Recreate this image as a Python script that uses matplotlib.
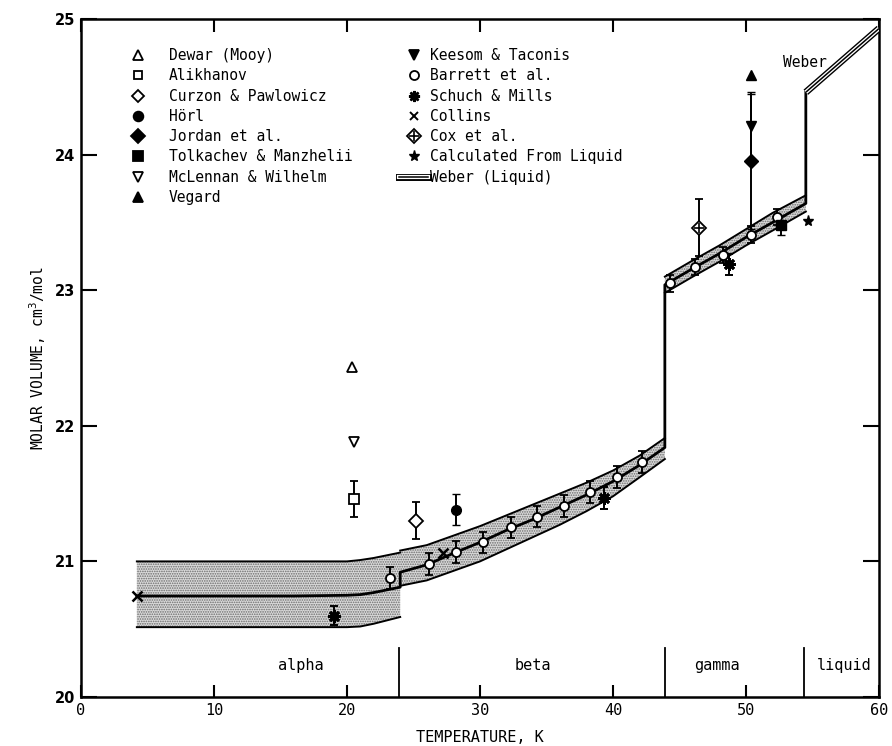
import matplotlib
matplotlib.use('Agg')
import matplotlib.pyplot as plt
from matplotlib.lines import Line2D
from matplotlib.legend_handler import HandlerTuple

# ---------------- data ----------------
# recommended curve with uncertainty band, per phase
alpha_T = [4.2, 8, 12, 16, 20, 21, 22, 23, 24.0]
alpha_mid = [20.745, 20.745, 20.745, 20.745, 20.75, 20.755, 20.77, 20.79, 20.81]
alpha_hi = [21.0, 21.0, 21.0, 21.0, 21.0, 21.01, 21.025, 21.045, 21.065]
alpha_lo = [20.515, 20.515, 20.515, 20.515, 20.515, 20.52, 20.54, 20.565, 20.59]

beta_T = [24.0, 26, 28, 30, 32, 34, 36, 38, 40, 42, 43.9]
beta_mid = [20.92, 20.975, 21.06, 21.14, 21.23, 21.31, 21.40, 21.49, 21.59, 21.71, 21.84]
beta_hi = [21.08, 21.12, 21.19, 21.26, 21.34, 21.42, 21.50, 21.58, 21.67, 21.78, 21.91]
beta_lo = [20.82, 20.86, 20.93, 21.00, 21.09, 21.18, 21.27, 21.37, 21.48, 21.62, 21.755]

gamma_T = [43.9, 46, 48, 50, 52, 54.5]
gamma_mid = [23.04, 23.16, 23.27, 23.39, 23.50, 23.64]
gamma_hi = [23.10, 23.22, 23.33, 23.45, 23.57, 23.70]
gamma_lo = [22.98, 23.10, 23.21, 23.33, 23.44, 23.58]

liquid_T = [54.5, 60.0]
liquid_V = [24.46, 24.93]

# experimental points
dewar_T, dewar_V = [20.4], [22.43]
alikhanov_T, alikhanov_V, alikhanov_err = [20.5], [21.46], [0.13]
curzon_T, curzon_V, curzon_err = [25.2], [21.30], [0.135]
horl_T, horl_V, horl_err = [28.2], [21.38], [0.115]
jordan_T, jordan_V, jordan_err = [50.35], [23.95], [0.50]
tolkachev_T, tolkachev_V, tolkachev_err = [52.6], [23.48], [0.07]
mclennan_T, mclennan_V = [20.5], [21.88]
vegard_T, vegard_V = [50.35], [24.59]
keesom_T, keesom_V, keesom_err = [50.35], [24.21], [0.25]
barrett_T = [23.2, 26.2, 28.2, 30.2, 32.3, 34.3, 36.3, 38.3, 40.3, 42.2,
             44.3, 46.2, 48.3, 50.35, 52.3]
barrett_V = [20.88, 20.98, 21.07, 21.14, 21.25, 21.33, 21.41, 21.51, 21.62, 21.735,
             23.05, 23.17, 23.26, 23.41, 23.54]
barrett_err = [0.08, 0.08, 0.08, 0.08, 0.08, 0.08, 0.08, 0.08, 0.08, 0.08,
               0.06, 0.06, 0.06, 0.06, 0.06]
schuch_T, schuch_V, schuch_err = [19.0, 39.3, 48.7], [20.60, 21.47, 23.19], [0.07, 0.08, 0.08]
collins_T, collins_V = [4.2, 27.2], [20.745, 21.06]
cox_T, cox_V, cox_err = [46.5], [23.46], [0.21]
calc_T, calc_V = [54.7], [23.51]

phase_bounds = [23.9, 43.9, 54.4]
phase_names = ['alpha', 'beta', 'gamma', 'liquid']
phase_label_T = [16.5, 34.0, 47.8, 57.4]

x_ticks = [0, 10, 20, 30, 40, 50, 60]
y_ticks = [20, 21, 22, 23, 24, 25]

# ---------------- plotting ----------------
MONO = 'DejaVu Sans Mono'
plt.rcParams['hatch.linewidth'] = 0.8

fig = plt.figure(figsize=(8.92, 7.46), dpi=100)
ax = fig.add_axes([0.0908, 0.0657, 0.8946, 0.9088])
ax.set_xlim(0, 60)
ax.set_ylim(20, 25)

band_face = '#dadada'
for T, lo, hi in [(alpha_T, alpha_lo, alpha_hi), (beta_T, beta_lo, beta_hi),
                  (gamma_T, gamma_lo, gamma_hi)]:
    ax.fill_between(T, lo, hi, facecolor=band_face, edgecolor='none', zorder=1)
    ax.fill_between(T, lo, hi, facecolor='none', edgecolor='#6a6a6a', hatch='.......',
                    linewidth=0, zorder=1.1)
    ax.plot(T, lo, color='black', lw=1.4, zorder=2)
    ax.plot(T, hi, color='black', lw=1.4, zorder=2)

mid_T = alpha_T + beta_T + gamma_T + [liquid_T[0]]
mid_V = alpha_mid + beta_mid + gamma_mid + [liquid_V[0]]
ax.plot(mid_T, mid_V, color='black', lw=2.0, zorder=3)

# Weber liquid: triple line
ax.plot(liquid_T, liquid_V, color='black', lw=5.0, zorder=3, solid_capstyle='butt')
ax.plot(liquid_T, liquid_V, color='white', lw=3.0, zorder=3.1, solid_capstyle='butt')
ax.plot(liquid_T, liquid_V, color='black', lw=1.1, zorder=3.2, solid_capstyle='butt')
ax.text(52.8, 24.68, 'Weber', fontfamily=MONO, fontsize=10.5, va='center', ha='left')

ekw = dict(ecolor='black', elinewidth=1.4, capsize=3, capthick=1.4, linestyle='none', zorder=5)
open_kw = dict(mfc='white', mec='black', mew=1.3)
fill_kw = dict(mfc='black', mec='black', mew=1.0)

ax.errorbar(barrett_T, barrett_V, yerr=barrett_err, fmt='o', ms=6.5, **open_kw, **ekw)
ax.errorbar(alikhanov_T, alikhanov_V, yerr=alikhanov_err, fmt='s', ms=6.5, **open_kw, **ekw)
ax.errorbar(curzon_T, curzon_V, yerr=curzon_err, fmt='D', ms=7, **open_kw, **ekw)
ax.errorbar(horl_T, horl_V, yerr=horl_err, fmt='o', ms=7, **fill_kw, **ekw)
ax.errorbar(jordan_T, jordan_V, yerr=jordan_err, fmt='D', ms=7, **fill_kw, **ekw)
ax.errorbar(keesom_T, keesom_V, yerr=keesom_err, fmt='v', ms=7.5, **fill_kw, **ekw)
ax.errorbar(tolkachev_T, tolkachev_V, yerr=tolkachev_err, fmt='s', ms=6.5, **fill_kw, **ekw)
ax.errorbar(schuch_T, schuch_V, yerr=schuch_err, fmt='none', **ekw)
ax.plot(schuch_T, schuch_V, linestyle='none', marker=(8, 2, 0), ms=9, mec='black', mew=2.0, zorder=6)
ax.errorbar(cox_T, cox_V, yerr=cox_err, fmt='D', ms=7.5, **open_kw, **ekw)
ax.plot(cox_T, cox_V, linestyle='none', marker='+', ms=7.5, mec='black', mew=1.2, zorder=6)
ax.plot(dewar_T, dewar_V, linestyle='none', marker='^', ms=7.5, **open_kw, zorder=6)
ax.plot(mclennan_T, mclennan_V, linestyle='none', marker='v', ms=7.5, **open_kw, zorder=6)
ax.plot(vegard_T, vegard_V, linestyle='none', marker='^', ms=7.5, **fill_kw, zorder=6)
ax.plot(collins_T, collins_V, linestyle='none', marker='x', ms=7, mec='black', mew=1.8, zorder=6)
ax.plot(calc_T, calc_V, linestyle='none', marker='*', ms=8, mfc='black', mec='black', zorder=6)

# phase boundaries and names
for b in phase_bounds:
    ax.plot([b, b], [20, 20.36], color='black', lw=1.3, zorder=2)
for name, t in zip(phase_names, phase_label_T):
    ax.text(t, 20.235, name, fontfamily=MONO, fontsize=11, ha='center', va='center')

# axes styling
for s in ax.spines.values():
    s.set_linewidth(1.8)
ax.set_xticks(x_ticks)
ax.set_yticks(y_ticks)
ax.tick_params(axis='x', direction='in', length=9, width=1.5, top=True, pad=4)
ax.tick_params(axis='y', direction='in', length=11.5, width=1.5, right=True, pad=4)
for lab in ax.get_xticklabels():
    lab.set_fontfamily(MONO)
    lab.set_fontsize(11)
for lab in ax.get_yticklabels():
    lab.set_fontfamily('DejaVu Sans')
    lab.set_fontsize(10.5)
    lab.set_fontweight('bold')
ax.set_xlabel('TEMPERATURE, K', fontfamily=MONO, fontsize=11, labelpad=9)
ax.set_ylabel('MOLAR VOLUME, cm$^3$/mol', fontfamily=MONO, fontsize=10.5, labelpad=5)

# legends
def H(marker, filled, ms=7, mew=1.3):
    return Line2D([], [], linestyle='none', marker=marker, ms=ms,
                  mfc='black' if filled else 'white', mec='black', mew=mew)

h1 = [H('^', False), H('s', False, 6), H('D', False, 6.5), H('o', True, 7),
      H('D', True, 7), H('s', True, 6.5), H('v', False), H('^', True)]
l1 = ['Dewar (Mooy)', 'Alikhanov', 'Curzon & Pawlowicz', 'Hörl', 'Jordan et al.',
      'Tolkachev & Manzhelii', 'McLennan & Wilhelm', 'Vegard']
h2 = [H('v', True), H('o', False, 6.5),
      Line2D([], [], linestyle='none', marker=(8, 2, 0), ms=8, mec='black', mew=1.8),
      Line2D([], [], linestyle='none', marker='x', ms=6, mec='black', mew=1.4),
      (H('D', False, 7.5), Line2D([], [], linestyle='none', marker='+', ms=7.5, mec='black', mew=1.2)),
      Line2D([], [], linestyle='none', marker='*', ms=8, mfc='black', mec='black'),
      (Line2D([], [], color='black', lw=5.0), Line2D([], [], color='white', lw=3.0),
       Line2D([], [], color='black', lw=1.1))]
l2 = ['Keesom & Taconis', 'Barrett et al.', 'Schuch & Mills', 'Collins', 'Cox et al.',
      'Calculated From Liquid', 'Weber (Liquid)']

leg_font = dict(family=MONO, size=10.5)
leg1 = ax.legend(h1, l1, loc='upper left', bbox_to_anchor=(0.0627, 0.957), frameon=False,
                 prop=leg_font, handlelength=1.0, handletextpad=1.6, labelspacing=0.36,
                 borderpad=0, borderaxespad=0)
ax.add_artist(leg1)
leg2 = ax.legend(h2, l2, loc='upper left', bbox_to_anchor=(0.3985, 0.957), frameon=False,
                 prop=leg_font, handlelength=2.0, handletextpad=0.15, labelspacing=0.36,
                 borderpad=0, borderaxespad=0,
                 handler_map={tuple: HandlerTuple(ndivide=1, pad=0)})

fig.savefig('out.png', dpi=100)
